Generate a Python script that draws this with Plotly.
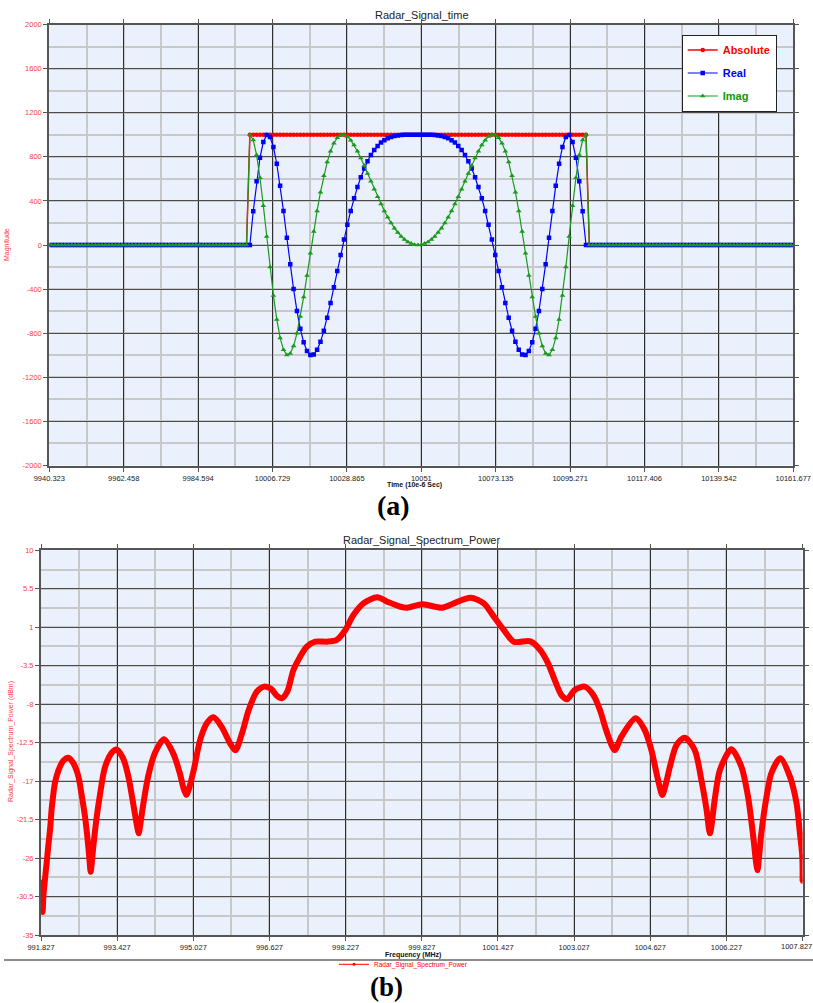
import numpy as np
import plotly.graph_objects as go

W, H = 813, 1003

# ---------------- (a) Radar_Signal_time ----------------
# one sample per time unit (10e-6 s), first sample at 9941
t_first = 9941
pre_zeros = [0] * 59
post_zeros = [0] * 61
absolute_pulse = [1000] * 101
real_pulse = [0, 306, 578, 792, 934, 997, 980, 889, 737, 538, 309, 66, -175, -400, -598, -760,
              -882, -961, -997, -993, -951, -878, -778, -659, -525, -383, -236, -91, 50, 184,
              309, 423, 525, 615, 694, 760, 816, 862, 899, 929, 951, 968, 980, 988, 994, 997,
              999, 1000, 1000, 1000,
              1000,
              1000, 1000, 1000, 999, 997, 994, 988, 980, 968, 951, 929, 899, 862, 816, 760,
              694, 615, 525, 423, 309, 184, 50, -91, -236, -383, -525, -659, -778, -878, -951,
              -993, -997, -961, -882, -760, -598, -400, -175, 66, 309, 538, 737, 889, 980, 997,
              934, 792, 578, 306, 0]
imag_pulse = [1000, 952, 816, 610, 356, 78, -200, -457, -675, -843, -951, -998, -985, -917,
              -801, -649, -471, -276, -75, 122, 309, 479, 628, 752, 851, 924, 972, 996, 999,
              983, 951, 906, 851, 788, 720, 649, 578, 506, 437, 371, 309, 252, 200, 153, 113,
              78, 50, 28, 13, 3,
              0,
              3, 13, 28, 50, 78, 113, 153, 200, 252, 309, 371, 437, 506, 578, 649, 720, 788,
              851, 906, 951, 983, 999, 996, 972, 924, 851, 752, 628, 479, 309, 122, -75, -276,
              -471, -649, -801, -917, -985, -998, -951, -843, -675, -457, -200, 78, 356, 610,
              816, 952, 1000]

absolute = pre_zeros + absolute_pulse + post_zeros
real = pre_zeros + real_pulse + post_zeros
imag = pre_zeros + imag_pulse + post_zeros
time_samples = np.arange(t_first, t_first + len(real))

time_tick_vals = [9940.323, 9962.458, 9984.594, 10006.729, 10028.865, 10051.0, 10073.135,
                  10095.271, 10117.406, 10139.542, 10161.677]
time_tick_text = ["9940.323", "9962.458", "9984.594", "10006.729", "10028.865", "10051",
                  "10073.135", "10095.271", "10117.406", "10139.542", "10161.677"]
mag_tick_vals = [-2000, -1600, -1200, -800, -400, 0, 400, 800, 1200, 1600, 2000]
mag_tick_text = ["-2000", "-1600", "-1200", "-800", "-400", "0", "400", "800", "1200", "1600", "2000"]

# ---------------- (b) Radar_Signal_Spectrum_Power ----------------
freq_mhz = [991.827, 991.84, 991.86, 991.876, 991.91, 991.945, 991.98, 992.02, 992.05, 992.08,
            992.12, 992.19, 992.29, 992.40, 992.50, 992.61, 992.68, 992.75, 992.82, 992.85,
            992.87, 992.89, 992.92, 992.99, 993.06, 993.17, 993.31, 993.41, 993.55, 993.66,
            993.76, 993.83, 993.88, 993.92, 993.97, 994.08, 994.22, 994.41, 994.60, 994.74,
            994.82, 994.88, 994.94, 995.04, 995.17, 995.31, 995.45, 995.62, 995.80, 995.91,
            996.05, 996.19, 996.36, 996.51, 996.66, 996.78, 996.888, 997.00, 997.13, 997.27,
            997.41, 997.59, 997.83, 998.04, 998.22, 998.39, 998.60, 998.89, 999.10, 999.38,
            999.52, 999.84, 1000.25, 1000.50, 1000.85, 1001.13, 1001.34, 1001.55, 1001.76,
            1002.11, 1002.32, 1002.48, 1002.62, 1002.76, 1002.88, 1003.04, 1003.25, 1003.43,
            1003.57, 1003.71, 1003.88, 1004.02, 1004.32, 1004.51, 1004.65, 1004.79, 1004.88,
            1004.96, 1005.04, 1005.18, 1005.35, 1005.56, 1005.70, 1005.81, 1005.88, 1005.98,
            1006.09, 1006.33, 1006.54, 1006.68, 1006.79, 1006.85, 1006.88, 1006.91, 1006.96,
            1007.07, 1007.17, 1007.36, 1007.56, 1007.70, 1007.77, 1007.82, 1007.827]
power_dbm = [-28.8, -31.5, -32.3, -30.5, -28.5, -26.6, -24.6, -22.5, -20.3, -18.8,
             -17.2, -15.8, -14.65, -14.27, -14.85, -16.4, -18.6, -21.1, -24.6, -26.5,
             -27.6, -26.8, -25.0, -21.5, -18.8, -15.4, -13.7, -13.3, -14.3, -16.4,
             -19.5, -21.8, -23.1, -21.8, -19.9, -16.4, -13.7, -12.1, -13.7, -16.0,
             -17.8, -18.6, -17.8, -15.6, -12.19, -10.24, -9.54, -10.63, -12.58, -13.4,
             -11.4, -8.68, -6.54, -5.95, -6.2, -7.0, -7.3, -6.54, -4.0, -2.45,
             -1.28, -0.69, -0.69, -0.49, 0.68, 2.43, 3.8, 4.5, 3.99, 3.4,
             3.29, 3.68, 3.29, 3.8, 4.46, 3.8, 2.24, 0.68, -0.69,
             -0.65, -1.7, -3.23, -5.18, -6.93, -7.43, -6.34, -5.95, -6.93,
             -8.68, -11.21, -13.36, -11.8, -9.66, -11.02, -13.36, -16.86, -18.62,
             -17.2, -15.3, -12.77, -11.92, -13.36, -16.86, -20.37, -23.1, -19.2,
             -15.69, -13.28, -15.3, -18.8, -23.5, -26.5, -27.4, -26.0, -23.1,
             -18.8, -16.08, -14.33, -16.47, -19.59, -23.1, -25.8, -28.7]

freq_tick_vals = [991.827, 993.427, 995.027, 996.627, 998.227, 999.827, 1001.427, 1003.027,
                  1004.627, 1006.227, 1007.827]
freq_tick_text = ["991.827", "993.427", "995.027", "996.627", "998.227", "999.827", "1001.427",
                  "1003.027", "1004.627", "1006.227", "1007.827"]
pow_tick_vals = [10, 5.5, 1, -3.5, -8, -12.5, -17, -21.5, -26, -30.5, -35]
pow_tick_text = ["10", "5.5", "1", "-3.5", "-8", "-12.5", "-17", "-21.5", "-26", "-30.5", "-35"]

# ---------------- styling helpers ----------------
FONT = "Liberation Sans, Arial, sans-serif"
PLOT_BG = "#eaf1fc"
MAJOR_H = "#4d4d4d"
MAJOR_V = "#2e2e2e"
MINOR = "#c8c8c8"
TICK_RED = "#ff3c3c"


def px(x):
    return x / W


def py(y):
    return 1 - y / H


fig = go.Figure()

fig.add_trace(go.Scatter(
    x=time_samples, y=absolute, name='<span style="color:#ff0000"><b>Absolute</b></span>',
    mode="lines+markers", line=dict(color="#ff0000", width=1.5),
    marker=dict(symbol="circle", size=4.5, color="#ff0000"),
    xaxis="x", yaxis="y", legend="legend", legendgroup="a"))
fig.add_trace(go.Scatter(
    x=time_samples, y=real, name='<span style="color:#0000ff"><b>Real</b></span>',
    mode="lines+markers", line=dict(color="#0000ff", width=1.2),
    marker=dict(symbol="square", size=4.5, color="#0000ff"),
    xaxis="x", yaxis="y", legend="legend", legendgroup="r"))
fig.add_trace(go.Scatter(
    x=time_samples, y=imag, name='<span style="color:#00a000"><b>Imag</b></span>',
    mode="lines+markers", line=dict(color="#1a9a1a", width=1.2),
    marker=dict(symbol="triangle-up", size=5, color="#1a9a1a"),
    xaxis="x", yaxis="y", legend="legend", legendgroup="i"))

fig.add_trace(go.Scatter(
    x=freq_mhz, y=power_dbm, name="Radar_Signal_Spectrum_Power",
    mode="lines+markers", line=dict(color="#ff0000", width=6, shape="spline", smoothing=0.8),
    marker=dict(symbol="circle", size=5, color="#ff0000"),
    xaxis="x2", yaxis="y2", showlegend=False))
# legend entry for the spectrum (thin line + marker, as in the reference)
fig.add_trace(go.Scatter(
    x=[None], y=[None], name="Radar_Signal_Spectrum_Power",
    mode="lines+markers", line=dict(color="#ff0000", width=1),
    marker=dict(symbol="circle", size=3, color="#ff0000"),
    xaxis="x2", yaxis="y2", legend="legend2"))

axis_common = dict(showline=True, mirror="ticks", linecolor="#555555", linewidth=2,
                   ticks="outside", ticklen=4, tickcolor="#555555", zeroline=False,
                   showgrid=True, gridwidth=1.3, automargin=False)

fig.update_layout(
    width=W, height=H, margin=dict(l=0, r=0, t=0, b=0, autoexpand=False),
    paper_bgcolor="white", plot_bgcolor=PLOT_BG,
    font=dict(family=FONT, size=8, color="#222"),
    xaxis=dict(domain=[px(49.3), px(793.3)], anchor="y", range=[9940.323, 10161.677],
               tickmode="array", tickvals=time_tick_vals, ticktext=time_tick_text,
               tickfont=dict(size=7.5, color="#222"), gridcolor=MAJOR_V,
               minor=dict(tick0=9940.323, dtick=11.0677, showgrid=True, gridcolor=MINOR, gridwidth=1.5),
               **axis_common),
    yaxis=dict(domain=[py(465.5), py(24.5)], anchor="x", range=[-2000, 2000],
               tickmode="array", tickvals=mag_tick_vals, ticktext=mag_tick_text,
               tickfont=dict(size=7.5, color=TICK_RED), gridcolor=MAJOR_H,
               minor=dict(tick0=-2000, dtick=200, showgrid=True, gridcolor=MINOR, gridwidth=1.5),
               **axis_common),
    xaxis2=dict(domain=[px(41), px(802.6)], anchor="y2", range=[991.827, 1007.827],
                tickmode="array", tickvals=freq_tick_vals, ticktext=freq_tick_text,
                tickfont=dict(size=7.5, color="#222"), gridcolor=MAJOR_V,
                minor=dict(tick0=991.827, dtick=0.8, showgrid=True, gridcolor=MINOR, gridwidth=1.5),
                **axis_common),
    yaxis2=dict(domain=[py(935), py(550.3)], anchor="x2", range=[-35, 10],
                tickmode="array", tickvals=pow_tick_vals, ticktext=pow_tick_text,
                tickfont=dict(size=7.5, color=TICK_RED), gridcolor=MAJOR_H,
                minor=dict(tick0=-35, dtick=2.25, showgrid=True, gridcolor=MINOR, gridwidth=1.5),
                **axis_common),
    legend=dict(x=px(681.7), y=py(34.5), xanchor="left", yanchor="top",
                bgcolor="white", bordercolor="#222", borderwidth=1,
                font=dict(family=FONT, size=11), tracegroupgap=4, itemwidth=30,
                traceorder="grouped"),
    legend2=dict(x=px(334), y=py(964.3), xanchor="left", yanchor="middle",
                 orientation="h", bgcolor="rgba(0,0,0,0)", borderwidth=0,
                 font=dict(family=FONT, size=6.5, color="#ff0000"), itemwidth=30),
)

annotations = [
    dict(text="Radar_Signal_time", x=px(422), y=py(15), size=11, color="#222", angle=0, family=FONT, xa="center"),
    dict(text="<b>Time (10e-6 Sec)</b>", x=px(414), y=py(485), size=7, color="#111", angle=0, family=FONT, xa="center"),
    dict(text="Magnitude", x=px(7), y=py(245), size=7, color=TICK_RED, angle=-90, family=FONT, xa="center"),
    dict(text="<b>(a)</b>", x=px(393), y=py(505), size=28, color="#000", angle=0,
         family="Liberation Serif, Times New Roman, serif", xa="center"),
    dict(text="Radar_Signal_Spectrum_Power", x=px(422), y=py(540), size=11, color="#222", angle=0, family=FONT, xa="center"),
    dict(text="<b>Frequency (MHz)</b>", x=px(413), y=py(955), size=7, color="#111", angle=0, family=FONT, xa="center"),
    dict(text="Radar_Signal_Spectrum_Power (dBm)", x=px(11), y=py(742), size=7, color=TICK_RED, angle=-90, family=FONT, xa="center"),
    dict(text="<b>(b)</b>", x=px(386), y=py(987), size=27, color="#000", angle=0,
         family="Liberation Serif, Times New Roman, serif", xa="center"),
    # last frequency tick label, which would overflow the page edge
    dict(text=freq_tick_text[-1], x=1.0, y=py(946), size=7.5, color="#222", angle=0, family=FONT, xa="right"),
]
for a in annotations:
    fig.add_annotation(text=a["text"], x=a["x"], y=a["y"], xref="paper", yref="paper",
                       showarrow=False, textangle=a["angle"], xanchor=a["xa"], yanchor="middle",
                       borderpad=0, font=dict(family=a["family"], size=a["size"], color=a["color"]))

fig.add_shape(type="line", xref="paper", yref="paper", x0=px(4), x1=1, y0=py(960), y1=py(960),
              line=dict(color="#666666", width=1.5))

fig.write_html("out.html")
